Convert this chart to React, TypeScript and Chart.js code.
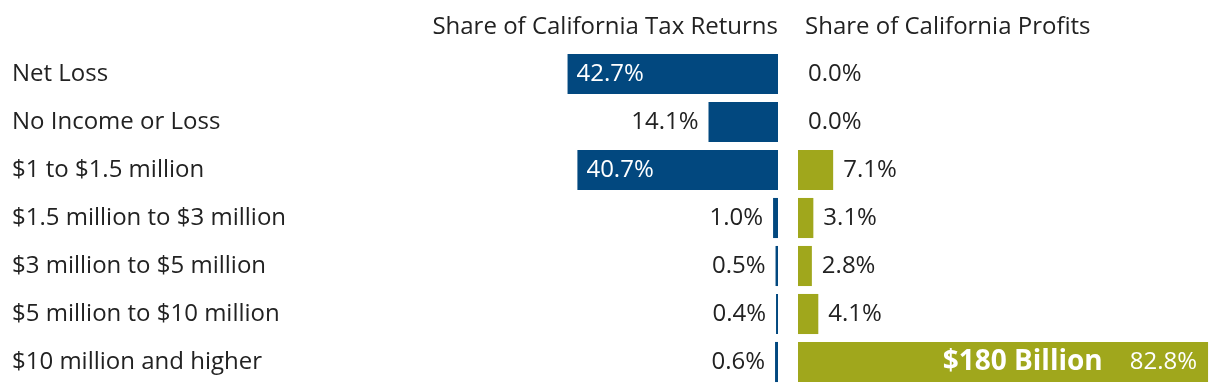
import React, { useEffect, useRef } from 'react';
import { Chart, registerables } from 'chart.js';

Chart.register(...registerables);

const categories = [
  'Net Loss',
  'No Income or Loss',
  '$1 to $1.5 million',
  '$1.5 million to $3 million',
  '$3 million to $5 million',
  '$5 million to $10 million',
  '$10 million and higher',
];
const returnsShare = [42.7, 14.1, 40.7, 1.0, 0.5, 0.4, 0.6];
const profitsShare = [0.0, 0.0, 7.1, 3.1, 2.8, 4.1, 82.8];
const profitNotes = ['', '', '', '', '', '', '$180 Billion'];
const panelTitles = ['Share of California Tax Returns', 'Share of California Profits'];

const FONT = "'Open Sans', sans-serif";
const FONT_SIZE = 24;
const TEXT = '#222222';
const BLUE = '#02487F';
const GREEN = '#A0A71C';
const AXIS_MAX = 84;

function makeLabelPlugin(side: 'left' | 'right', title: string, notes?: string[]) {
  return {
    id: 'panelLabels' + side,
    afterDatasetsDraw(chart: any) {
      const ctx = chart.ctx;
      const meta = chart.getDatasetMeta(0);
      const data = chart.data.datasets[0].data as number[];
      ctx.save();
      ctx.textBaseline = 'middle';
      meta.data.forEach((el: any, i: number) => {
        const v = data[i];
        const txt = v.toFixed(1) + '%';
        ctx.font = `${FONT_SIZE}px ${FONT}`;
        if (side === 'left') {
          if (v > 30) {
            ctx.fillStyle = '#ffffff';
            ctx.textAlign = 'left';
            ctx.fillText(txt, el.x + 9, el.y);
          } else {
            ctx.fillStyle = TEXT;
            ctx.textAlign = 'right';
            ctx.fillText(txt, el.x - 10, el.y);
          }
        } else {
          if (v > 50) {
            ctx.fillStyle = '#ffffff';
            ctx.textAlign = 'right';
            const xEnd = el.x - 11;
            ctx.fillText(txt, xEnd, el.y);
            const w = ctx.measureText(txt).width;
            const note = notes ? notes[i] : '';
            if (note) {
              ctx.font = `bold 28px ${FONT}`;
              ctx.fillText(note, xEnd - w - 27, el.y);
            }
          } else {
            ctx.fillStyle = TEXT;
            ctx.textAlign = 'left';
            ctx.fillText(txt, el.x + 10, el.y);
          }
        }
      });
      const area = chart.chartArea;
      ctx.font = `${FONT_SIZE}px ${FONT}`;
      ctx.fillStyle = TEXT;
      if (side === 'left') {
        ctx.textAlign = 'right';
        ctx.fillText(title, area.right, 27);
      } else {
        ctx.textAlign = 'left';
        ctx.fillText(title, area.left + 7, 27);
      }
      ctx.restore();
    },
  };
}

export default function App() {
  const leftRef = useRef<HTMLCanvasElement>(null);
  const rightRef = useRef<HTMLCanvasElement>(null);

  useEffect(() => {
    const left = new Chart(leftRef.current!, {
      type: 'bar',
      data: {
        labels: categories,
        datasets: [
          {
            data: returnsShare,
            backgroundColor: BLUE,
            borderWidth: 0,
            categoryPercentage: 0.835,
            barPercentage: 1,
          },
        ],
      },
      options: {
        indexAxis: 'y',
        responsive: false,
        animation: false,
        layout: { padding: { left: 12, top: 50, bottom: 6, right: 0 } },
        plugins: { legend: { display: false }, tooltip: { enabled: false }, title: { display: false } },
        scales: {
          x: { display: false, reverse: true, min: 0, max: AXIS_MAX },
          y: {
            grid: { display: false },
            border: { display: false },
            ticks: {
              crossAlign: 'far',
              color: TEXT,
              font: { family: FONT, size: FONT_SIZE },
            },
            afterFit: (scale: any) => {
              scale.width = 352;
              scale.paddingTop = 0;
              scale.paddingBottom = 0;
            },
          },
        },
      },
      plugins: [makeLabelPlugin('left', panelTitles[0])],
    } as any);

    const right = new Chart(rightRef.current!, {
      type: 'bar',
      data: {
        labels: categories,
        datasets: [
          {
            data: profitsShare,
            backgroundColor: GREEN,
            borderWidth: 0,
            categoryPercentage: 0.835,
            barPercentage: 1,
          },
        ],
      },
      options: {
        indexAxis: 'y',
        responsive: false,
        animation: false,
        layout: { padding: { left: 0, top: 50, bottom: 6, right: 6 } },
        plugins: { legend: { display: false }, tooltip: { enabled: false }, title: { display: false } },
        scales: {
          x: { display: false, min: 0, max: AXIS_MAX },
          y: { display: false },
        },
      },
      plugins: [makeLabelPlugin('right', panelTitles[1], profitNotes)],
    } as any);

    return () => {
      left.destroy();
      right.destroy();
    };
  }, []);

  return (
    <div style={{ position: 'fixed', left: 0, top: 0, width: 1220, height: 392, background: '#ffffff' }}>
      <canvas ref={leftRef} width={778} height={392} style={{ position: 'absolute', left: 0, top: 0 }} />
      <canvas ref={rightRef} width={422} height={392} style={{ position: 'absolute', left: 798, top: 0 }} />
    </div>
  );
}
